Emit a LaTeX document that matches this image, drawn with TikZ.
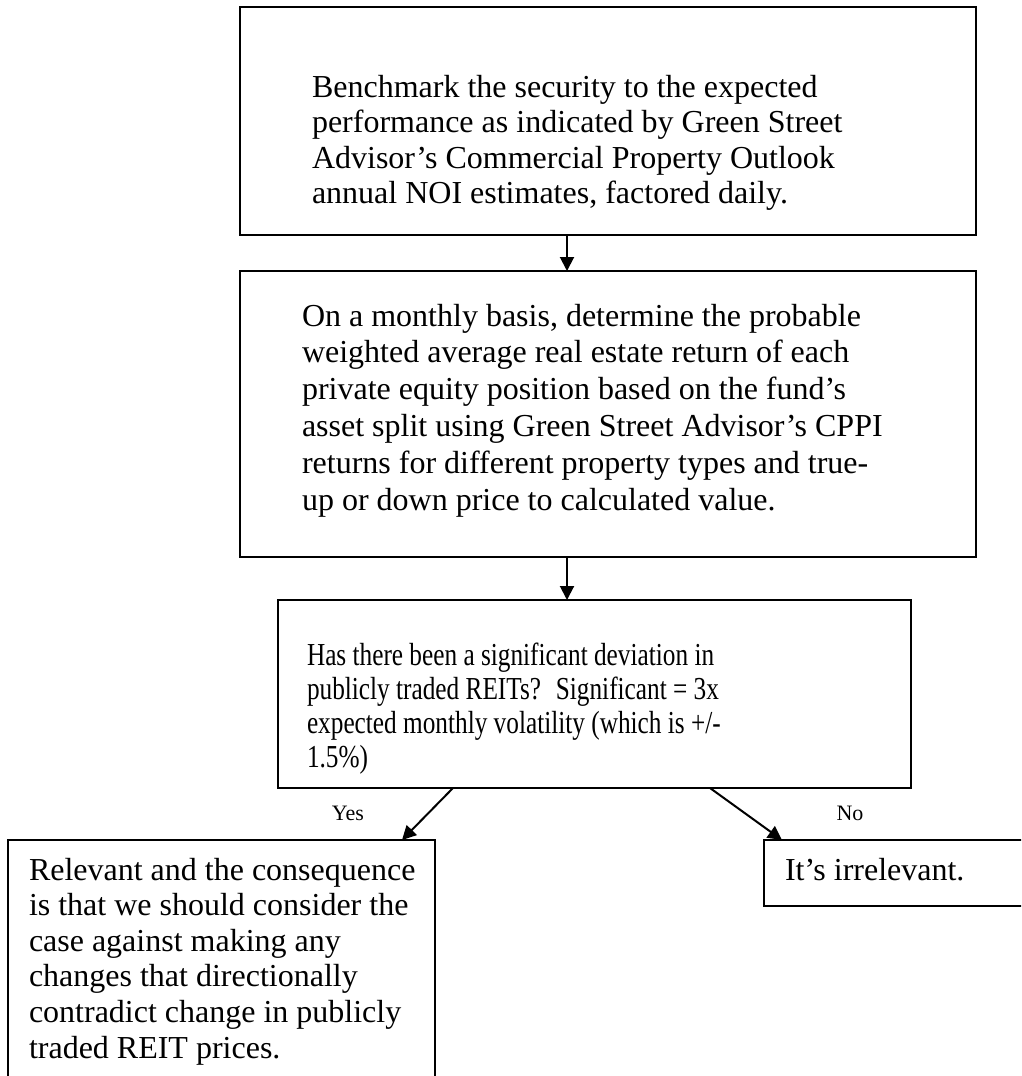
\documentclass[tikz,border=0pt]{standalone}
\usepackage{fontspec}
\usepackage{graphicx}
\setmainfont{Liberation Serif}
\usetikzlibrary{arrows.meta}
% #1 width, #2 height, #3 left indent, #4 first baseline, #5 line skip, #6 xscale, #7 lines
\newcommand\boxbody[7]{\parbox[c][#2pt][t]{#1pt}{\fontsize{32}{#5}\selectfont\hspace*{#3pt}\scalebox{#6}[1]{\def\arraystretch{1}\begin{tabular}[t]{@{}l@{}}\rule{0pt}{#4pt}#7\end{tabular}}}}
\tikzset{
  stepbox/.style={draw=black, anchor=north west, inner sep=0pt, outer sep=0pt, fill=white},
  arr/.style={-{Triangle[length=14pt,width=14pt]}, line width=2pt, draw=black},
  lab/.style={anchor=north, inner sep=0pt, fill=white, font=\fontsize{22}{26}\selectfont}
}
\begin{document}
\begin{tikzpicture}[x=1pt,y=-1pt]
\useasboundingbox (0,0) rectangle (1021,1076);
\clip (0,0) rectangle (1021,1076);
\fill[white] (0,0) rectangle (1021,1076);

\node[stepbox, line width=2.6pt] (b1) at (240,7)
  {\boxbody{736}{228}{72}{90}{35.5}{1}{Benchmark the security to the expected\\performance as indicated by Green Street\\Advisor’s Commercial Property Outlook\\annual NOI estimates, factored daily.}};

\node[stepbox, line width=2.6pt] (b2) at (240,271)
  {\boxbody{736}{286}{62}{55}{36.8}{1}{On a monthly basis, determine the probable\\weighted average real estate return of each\\private equity position based on the fund’s\\asset split using Green Street Advisor’s CPPI\\returns for different property types and true-\\up or down price to calculated value.}};

\node[stepbox, line width=1.9pt] (b3) at (278,600)
  {\boxbody{633}{188}{29}{65}{34}{0.79}{Has there been a significant deviation in\\publicly traded REITs?~ Significant = 3x\\expected monthly volatility (which is +/-\\1.5\%)}};

\node[stepbox, line width=1.9pt] (b4) at (8,840)
  {\boxbody{427}{260}{21}{40}{35.6}{1}{Relevant and the consequence\\is that we should consider the\\case against making any\\changes that directionally\\contradict change in publicly\\traded REIT prices.}};

\node[stepbox, line width=2.4pt] (b5) at (764,840)
  {\boxbody{280}{66}{21}{40}{35}{1}{It’s irrelevant.}};

\node[lab, minimum width=80pt] (yes) at (348,789) {\rule{0pt}{31pt}Yes};
\node[lab, minimum width=75pt] (no) at (850,789) {\rule{0pt}{31pt}No};

\draw[arr] ([xshift=-41pt]b1.south) -- ([xshift=-41pt]b2.north);
\draw[arr] ([xshift=-41pt]b2.south) -- ([xshift=-27.5pt]b3.north);
\draw[arr] ([xshift=175pt]b3.south west) -- ([xshift=-33pt]b4.north east);
\draw[arr] ([xshift=-201pt]b3.south east) -- ([xshift=18pt]b5.north west);
\end{tikzpicture}
\end{document}
